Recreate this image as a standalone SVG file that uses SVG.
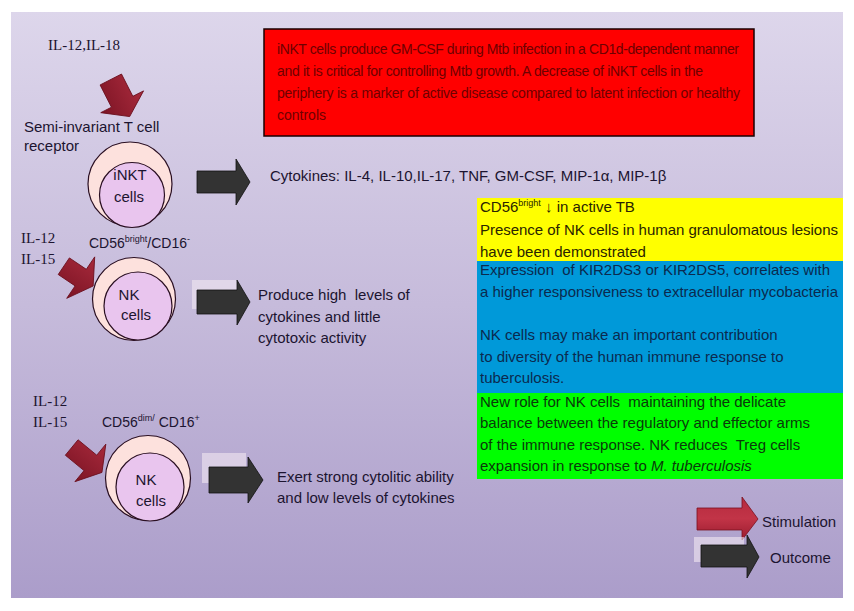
<svg xmlns="http://www.w3.org/2000/svg" width="854" height="611" viewBox="0 0 854 611">
<defs>
<linearGradient id="bg" x1="0" y1="0" x2="0" y2="1">
<stop offset="0" stop-color="#ddd6eb"/>
<stop offset="0.5" stop-color="#c6bbdb"/>
<stop offset="1" stop-color="#ab9dca"/>
</linearGradient>
<linearGradient id="redArrow" x1="0" y1="0" x2="0" y2="1">
<stop offset="0" stop-color="#a82a3c"/>
<stop offset="1" stop-color="#7c1424"/>
</linearGradient>
<linearGradient id="redLegend" x1="0" y1="0" x2="0" y2="1">
<stop offset="0" stop-color="#b52a3e"/>
<stop offset="0.5" stop-color="#c23447"/>
<stop offset="1" stop-color="#9a1c2f"/>
</linearGradient>
</defs>
<style>
text{font-family:"Liberation Sans",Arial,sans-serif;fill:#1c1430;font-size:15px}
.serif{font-family:"Liberation Serif","Times New Roman",serif}
.lbl14{font-size:14px}
.mid{text-anchor:middle}
.outer{fill:#fde1dd;stroke:#2a0f22;stroke-width:1.2}
.inner{fill:#e9c5ee;stroke:#2a0f22;stroke-width:1.2}
.stim{fill:url(#redArrow);stroke:#6a0e1c;stroke-width:0.8}
.out{fill:#333333;stroke:#111111;stroke-width:0.8}
.shadow{fill:#f1e8f1;opacity:0.6}
.redtxt{fill:#6e0000;font-size:14px}
.ytxt{fill:#2a2400}
.btxt{fill:#0b2a4f}
.gtxt{fill:#0a3a0a}
.sup{font-size:9px}
</style>
<rect x="11" y="12" width="832" height="586" fill="url(#bg)"/>

<g id="info-red">
<rect x="264" y="29" width="490" height="107" fill="#ff0000" stroke="#1a0000" stroke-width="1.5"/>
<text class="redtxt" x="277" y="54" textLength="462">iNKT cells produce GM-CSF during Mtb infection in a CD1d-dependent manner</text>
<text class="redtxt" x="277" y="76" textLength="426">and it is critical for controlling Mtb growth. A decrease of iNKT cells in the</text>
<text class="redtxt" x="277" y="98" textLength="463">periphery is a marker of active disease compared to latent infection or healthy</text>
<text class="redtxt" x="277" y="120">controls</text>
</g>

<g id="info-yellow">
<rect x="477" y="198" width="366" height="63" fill="#ffff00"/>
<text class="ytxt" x="480" y="212">CD56<tspan class="sup" dy="-6">bright</tspan><tspan dy="6"> ↓ in active TB</tspan></text>
<text class="ytxt" x="480" y="235" textLength="358">Presence of NK cells in human granulomatous lesions</text>
<text class="ytxt" x="480" y="257">have been demonstrated</text>
</g>

<g id="info-blue">
<rect x="477" y="261" width="366" height="132" fill="#0099d9"/>
<text class="btxt" x="480" y="275" textLength="350" xml:space="preserve">Expression  of KIR2DS3 or KIR2DS5, correlates with</text>
<text class="btxt" x="480" y="297" textLength="358">a higher responsiveness to extracellular mycobacteria</text>
<text class="btxt" x="480" y="340">NK cells may make an important contribution</text>
<text class="btxt" x="480" y="362">to diversity of the human immune response to</text>
<text class="btxt" x="480" y="383">tuberculosis.</text>
</g>

<g id="info-green">
<rect x="477" y="393" width="366" height="86" fill="#00ff00"/>
<text class="gtxt" x="480" y="407" xml:space="preserve">New role for NK cells  maintaining the delicate</text>
<text class="gtxt" x="480" y="428">balance between the regulatory and effector arms</text>
<text class="gtxt" x="480" y="450" xml:space="preserve">of the immune response. NK reduces  Treg cells</text>
<text class="gtxt" x="480" y="471">expansion in response to <tspan font-style="italic">M. tuberculosis</tspan></text>
</g>

<g id="inkt">
<text class="serif" x="48" y="50">IL-12,IL-18</text>
<text x="24" y="132">Semi-invariant T cell</text>
<text x="24" y="151">receptor</text>
<circle class="outer" cx="130" cy="184" r="42"/>
<circle class="inner" cx="132" cy="195" r="32.5"/>
<text class="mid" x="130" y="180">iNKT</text>
<text class="mid" x="129" y="202">cells</text>
</g>

<g id="nk-bright">
<text class="serif" x="21" y="243">IL-12</text>
<text class="serif" x="21" y="264">IL-15</text>
<text class="lbl14" x="89" y="248">CD56<tspan class="sup" dy="-6">bright</tspan><tspan dy="6">/CD16</tspan><tspan class="sup" dy="-6">-</tspan></text>
<circle class="outer" cx="134" cy="299" r="41.5"/>
<circle class="inner" cx="138" cy="306" r="34"/>
<text class="mid" x="129" y="300">NK</text>
<text class="mid" x="136" y="320">cells</text>
</g>

<g id="nk-dim">
<text class="serif" x="33" y="406">IL-12</text>
<text class="serif" x="33" y="427">IL-15</text>
<text class="lbl14" x="102" y="427">CD56<tspan class="sup" dy="-6">dim/</tspan><tspan dy="6"> CD16</tspan><tspan class="sup" dy="-6">+</tspan></text>
<circle class="outer" cx="148" cy="478" r="42.5"/>
<circle class="inner" cx="150" cy="487" r="34"/>
<text class="mid" x="146" y="485">NK</text>
<text class="mid" x="151" y="506">cells</text>
</g>

<g id="outcome-text">
<text x="270" y="181">Cytokines: IL-4, IL-10,IL-17, TNF, GM-CSF, MIP-1α, MIP-1β</text>
<text x="258" y="300" xml:space="preserve">Produce high  levels of</text>
<text x="258" y="322">cytokines and little</text>
<text x="258" y="343">cytotoxic activity</text>
<text x="277" y="482">Exert strong cytolitic ability</text>
<text x="277" y="503">and low levels of cytokines</text>
</g>

<g id="connectors">
<polygon class="stim" transform="translate(110.8,79.5) rotate(63)" points="0,-12 25,-12 25,-24 41.6,0 25,24 25,12 0,12"/>
<polygon class="stim" transform="translate(63.8,266.2) rotate(34)" points="0,-10 20.4,-10 20.4,-25 35.4,0 20.4,25 20.4,10 0,10"/>
<polygon class="stim" transform="translate(71.7,447.5) rotate(39.5)" points="0,-10 24.2,-10 24.2,-24.3 39.2,0 24.2,24.3 24.2,10 0,10"/>
<polygon class="out" points="197,171 236,171 236,159 250,182 236,205 236,193 197,193"/>
<rect class="shadow" x="192" y="280" width="46" height="29"/>
<polygon class="out" points="197,290 237,290 237,280 250,302 237,325 237,314 197,314"/>
<rect class="shadow" x="202" y="453" width="44" height="30"/>
<polygon class="out" points="209,467 248,467 248,457 263,480 248,503 248,493 209,493"/>
</g>

<g id="legend">
<polygon fill="url(#redLegend)" stroke="#7a1020" stroke-width="0.8" points="697,508 742,508 742,497 758,519 742,540 742,530 697,530"/>
<rect class="shadow" x="694" y="537" width="50" height="25"/>
<polygon class="out" points="701,545 747,545 747,535 759,557 747,578 747,567 701,567"/>
<text x="762" y="527">Stimulation</text>
<text x="770" y="563">Outcome</text>
</g>
</svg>
